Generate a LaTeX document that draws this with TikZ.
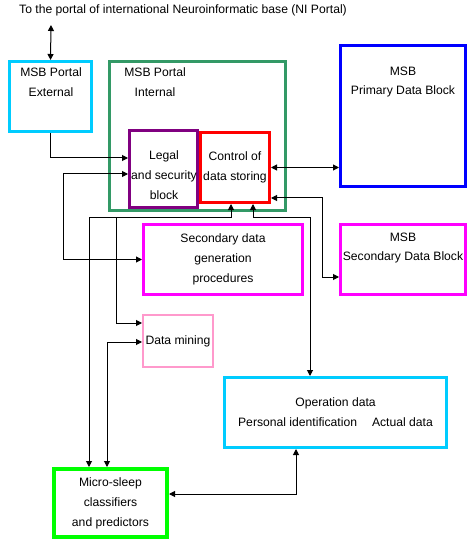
\documentclass[tikz,border=0pt]{standalone}
\usepackage{fontspec}
\setmainfont{Liberation Sans}
\usetikzlibrary{positioning,calc,arrows.meta}
\definecolor{msbcyan}{RGB}{0,204,255}
\definecolor{msbgreen}{RGB}{51,153,102}
\definecolor{msbpurple}{RGB}{128,0,128}
\definecolor{msbpink}{RGB}{255,153,204}
\definecolor{msblime}{RGB}{0,255,0}
\definecolor{msbmagenta}{RGB}{255,0,255}
\definecolor{msbred}{RGB}{255,0,0}
\definecolor{msbblue}{RGB}{0,0,255}

\begin{document}
\begin{tikzpicture}[x=1bp,y=-1bp,font=\fontsize{12.2}{20}\selectfont,
	blk/.style={draw,line width=3bp,inner sep=0pt,align=center},
	txt/.style={align=center,inner sep=0pt},
	lnk/.style={line width=1bp,-{Triangle[length=6bp,width=6bp]}},
	dlnk/.style={line width=1bp,{Triangle[length=6bp,width=6bp]}-{Triangle[length=6bp,width=6bp]}}]
				\useasboundingbox (0,0) rectangle (476,547);
				\node[txt] (ttl) at (183,10) {To the portal of international Neuroinformatic base (NI Portal)};
				\node[blk,draw=msbcyan,minimum width=82bp,minimum height=70bp] (ext) at (50.5,96.5) {};
				\node[txt] (extT) at (51,82) {MSB Portal\\External};
				\node[blk,draw=msbgreen,minimum width=176bp,minimum height=149bp] (intl) at (197,136) {};
				\node[txt] (intlT) at (155,82) {MSB Portal\\Internal};
				\node[blk,draw=msbpurple,minimum width=68bp,minimum height=77bp] (legal) at (163.5,169) {};
				\node[txt] (legalT) at (164,175) {Legal\\and security\\block};
				\node[blk,draw=msbred,minimum width=69bp,minimum height=70bp] (ctrl) at (235,167.5) {Control of\\data storing};
				\node[blk,draw=msbblue,minimum width=125bp,minimum height=141bp] (prim) at (403,116) {};
				\node[txt] (primT) at (403,82) {MSB\\Primary Data Block};
				\node[blk,draw=msbmagenta,minimum width=125bp,minimum height=70bp] (secb) at (403,259.5) {};
				\node[txt] (secbT) at (403,248) {MSB\\Secondary Data Block};
				\node[blk,draw=msbmagenta,minimum width=159bp,minimum height=70bp] (secgen) at (223,259.5) {Secondary data\\generation\\procedures};
				\node[blk,draw=msbpink,line width=2bp,minimum width=70bp,minimum height=52bp] (dmin) at (178,341) {Data mining};
				\node[blk,draw=msbcyan,minimum width=222bp,minimum height=70bp] (opd) at (335.5,412.5) {Operation data\\Personal identification\hspace{15bp}Actual data};
				\node[blk,draw=msblime,line width=4bp,minimum width=113bp,minimum height=68bp] (mic) at (110.5,503) {Micro-sleep\\classifiers\\and predictors};
				\coordinate (nip) at (51,25);
				\coordinate (tap) at (116,217);
				\draw[dlnk] (nip) -- (ext.north);
				\draw[lnk] (ext.south) |- ($(legal.west)+(0,-11)$);
				\draw[dlnk] ($(legal.west)+(0,5)$) -- ++(-65,0) |- (secgen.west);
				\draw[dlnk] (ctrl.east) -- (ctrl.east -| prim.west);
				\draw[dlnk] ($(ctrl.east)+(0,30.5)$) -- ++(51,0) |- ($(secb.west)+(0,17.5)$);
				\draw[dlnk] ($(ctrl.south)+(-4,0)$) -- ++(0,13) -| ($(mic.north)+(-21.5,0)$);
				\draw[lnk] (tap) |- ($(dmin.west)+(0,-18)$);
				\draw[dlnk] ($(ctrl.south)+(18,0)$) -- ++(0,13) -| ($(opd.north)+(-25.5,0)$);
				\draw[dlnk] ($(mic.north)+(-3.5,0)$) |- ($(dmin.west)+(0,1)$);
				\draw[dlnk] ($(mic.east)+(0,-9)$) -| ($(opd.south)+(-39.5,0)$);
				\end{tikzpicture}
\end{document}
